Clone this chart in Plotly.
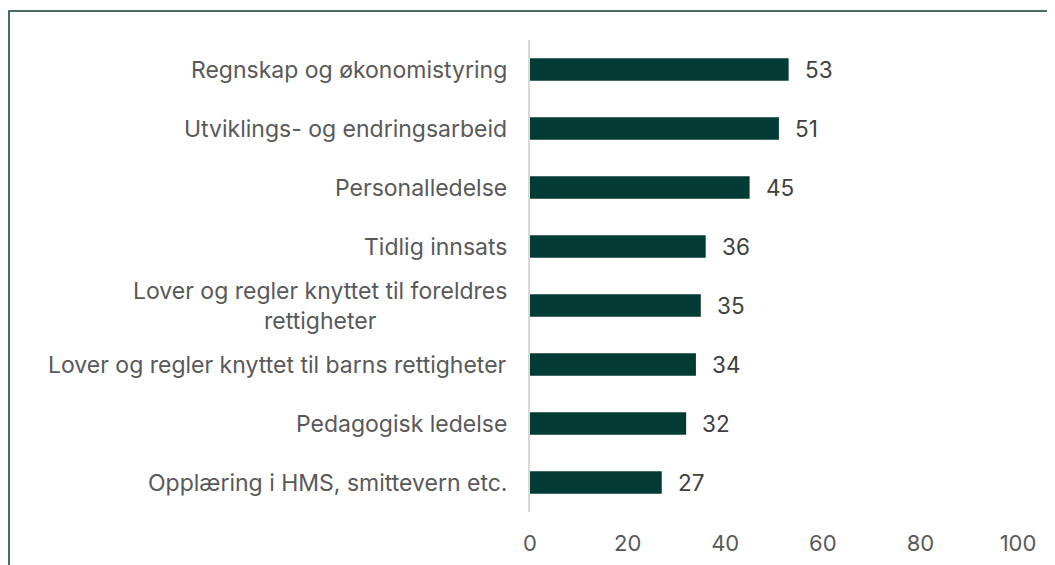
import plotly.graph_objects as go

categories = [
    "Regnskap og økonomistyring",
    "Utviklings- og endringsarbeid",
    "Personalledelse",
    "Tidlig innsats",
    "Lover og regler knyttet til foreldres<br>rettigheter",
    "Lover og regler knyttet til barns rettigheter",
    "Pedagogisk ledelse",
    "Opplæring i HMS, smittevern etc.",
]
values = [53, 51, 45, 36, 35, 34, 32, 27]
x_ticks = [0, 20, 40, 60, 80, 100]

bar_color = "#023b34"
FONT = "Inter"

fig = go.Figure()
fig.add_trace(go.Bar(
    y=categories, x=values, orientation="h",
    marker=dict(color=bar_color, line=dict(width=0)),
    width=0.38,
    hoverinfo="skip",
))

for c, v in zip(categories, values):
    fig.add_annotation(x=v, y=c, text=str(v), showarrow=False,
                       xanchor="left", xshift=14,
                       font=dict(family=FONT, size=22.5, color="#404040"))
    fig.add_annotation(x=0, y=c, text=c, showarrow=False,
                       xanchor="right", align="center", xshift=-21,
                       font=dict(family=FONT, size=23, color="#595959"))

L, R, T, B = 522, 45, 32, 61
W, H = 1055, 565
pw, ph = W - L - R, H - T - B

fig.update_layout(
    width=W, height=H,
    margin=dict(l=L, r=R, t=T, b=B),
    paper_bgcolor="white", plot_bgcolor="white",
    showlegend=False,
    font=dict(family=FONT, color="#595959"),
    xaxis=dict(range=[0, 100], tickvals=x_ticks, showgrid=False, zeroline=False,
               showline=False, ticks="", tickfont=dict(size=22, color="#595959"),
               ticklabelstandoff=16, fixedrange=True),
    yaxis=dict(categoryorder="array", categoryarray=categories[::-1],
               showgrid=False, zeroline=False, showline=True, linecolor="#d9d9d9",
               linewidth=2, ticks="", showticklabels=False, fixedrange=True),
    shapes=[dict(type="rect", xref="paper", yref="paper",
                 x0=(1 - L) / pw, x1=1.3, y0=-0.5, y1=1 + (T - 3) / ph,
                 line=dict(color="#0b3d33", width=1.5), fillcolor="rgba(0,0,0,0)",
                 layer="below")],
)

fig.write_html("out.html")
